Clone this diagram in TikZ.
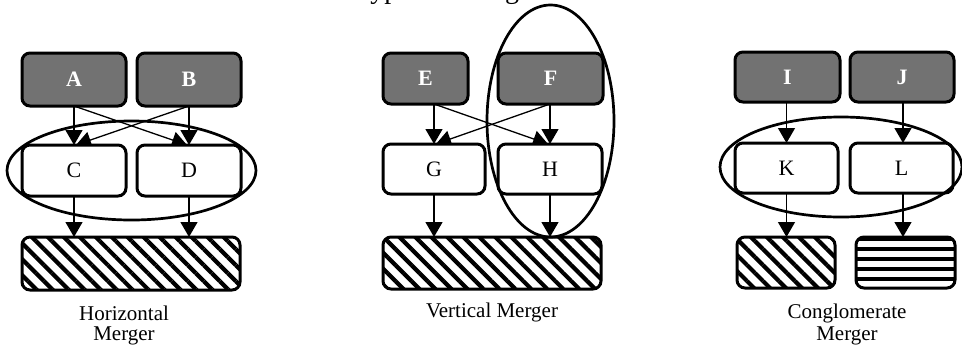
\documentclass[tikz,border=0pt]{standalone}
\usepackage{fontspec}
\setmainfont{Liberation Serif}
\usetikzlibrary{arrows.meta,patterns.meta,backgrounds,shapes.geometric}

\definecolor{firmgray}{HTML}{727272}

\tikzset{
  box/.style={draw=black, line width=3pt, rounded corners=8pt, rectangle,
    outer sep=0pt, inner sep=0pt, font=\fontsize{22}{24}\selectfont},
  firm/.style={box, fill=firmgray, text=white, font=\fontsize{22}{24}\selectfont\bfseries},
  target/.style={box, fill=white},
  diaghatch/.style={box, pattern={Lines[angle=-45, distance=11.3pt, line width=4.2pt]}},
  flathatch/.style={box, pattern={Lines[angle=0, distance=10pt, line width=4.2pt]}},
  link/.style={line width=1.3pt, -{Triangle[length=15pt,width=17pt]}},
  bond/.style={draw=black, line width=2.7pt, ellipse, inner sep=0pt, outer sep=0pt},
  caption/.style={font=\fontsize{21}{23}\selectfont, anchor=base, inner sep=0pt},
}

\begin{document}
\begin{tikzpicture}[x=1pt, y=-1pt]
\useasboundingbox (0,0) rectangle (962,349);

% title, set high so that only its descenders reach the page
\node[anchor=base west, inner sep=0pt, font=\fontsize{28}{30}\selectfont] (title) at (355,-1.5) {Types of Mergers};

% ---------- horizontal merger ----------
\node[firm, minimum width=104pt, minimum height=53pt] (A) at (74,79.5) {A};
\node[firm, minimum width=104pt, minimum height=53pt] (B) at (189,79.5) {B};
\node[target, minimum width=104pt, minimum height=51pt] (C) at (74,170.5) {C};
\node[target, minimum width=104pt, minimum height=51pt] (D) at (189,170.5) {D};
\node[diaghatch, minimum width=218pt, minimum height=53pt] (HBar) at (131,263.5) {};
\node[bond, minimum width=249pt, minimum height=99pt] (HOval) at (131.5,170.5) {};
\node[caption] (HCap1) at (124,320) {Horizontal};
\node[caption] (HCap2) at (124,340) {Merger};

% ---------- vertical merger ----------
\node[firm, minimum width=85pt, minimum height=51pt] (E) at (425.5,78.5) {E};
\node[firm, minimum width=105pt, minimum height=51pt] (F) at (550.5,78.5) {F};
\node[target, minimum width=102pt, minimum height=50pt] (G) at (434,169) {G};
\node[target, minimum width=104pt, minimum height=50pt] (H) at (550,169) {H};
\node[diaghatch, minimum width=218pt, minimum height=52pt] (VBar) at (492,263) {};
\node[bond, minimum width=127pt, minimum height=232pt] (VOval) at (550.5,121) {};
\node[caption] (VCap) at (492,317) {Vertical Merger};

% ---------- conglomerate merger ----------
\node[firm, minimum width=105pt, minimum height=50pt] (I) at (787.5,77) {I};
\node[firm, minimum width=104pt, minimum height=50pt] (J) at (902,77) {J};
\node[target, minimum width=103pt, minimum height=50pt] (K) at (786.5,168) {K};
\node[target, minimum width=103pt, minimum height=50pt] (L) at (901.5,168) {L};
\node[diaghatch, minimum width=98pt, minimum height=51pt] (KBar) at (786,262.5) {};
\node[flathatch, minimum width=99pt, minimum height=51pt] (LBar) at (905.5,262.5) {};
\node[bond, minimum width=242pt, minimum height=100pt] (COval) at (841,167) {};
\node[caption] (CCap1) at (847,318) {Conglomerate};
\node[caption] (CCap2) at (847,340) {Merger};

% connectors sit under the boxes
\begin{scope}[on background layer]
  % horizontal
  \draw[link] (A.south) -- (C.north);
  \draw[link] (B.south) -- (D.north);
  \draw[link] (A.south) -- ([xshift=-2pt]D.north);
  \draw[link] (B.south) -- ([xshift=2pt]C.north);
  \draw[link] (C.south) -- (C.south |- HBar.north);
  \draw[link] (D.south) -- (D.south |- HBar.north);
  % vertical
  \draw[link] (E.south -| G.north) -- (G.north);
  \draw[link] (F.south -| H.north) -- (H.north);
  \draw[link] (E.south -| G.north) -- ([xshift=-2pt]H.north);
  \draw[link] (F.south -| H.north) -- ([xshift=2pt]G.north);
  \draw[link] (G.south) -- (G.south |- VBar.north);
  \draw[link] (H.south) -- (H.south |- VBar.north);
  % conglomerate
  \draw[link] (I.south -| K.north) -- (K.north);
  \draw[link] ([xshift=1pt]J.south) -- ([xshift=1pt]J.south |- L.north);
  \draw[link] (K.south) -- (K.south |- KBar.north);
  \draw[link] ([xshift=1.5pt]L.south) -- ([xshift=1.5pt]L.south |- LBar.north);
\end{scope}
\end{tikzpicture}
\end{document}
